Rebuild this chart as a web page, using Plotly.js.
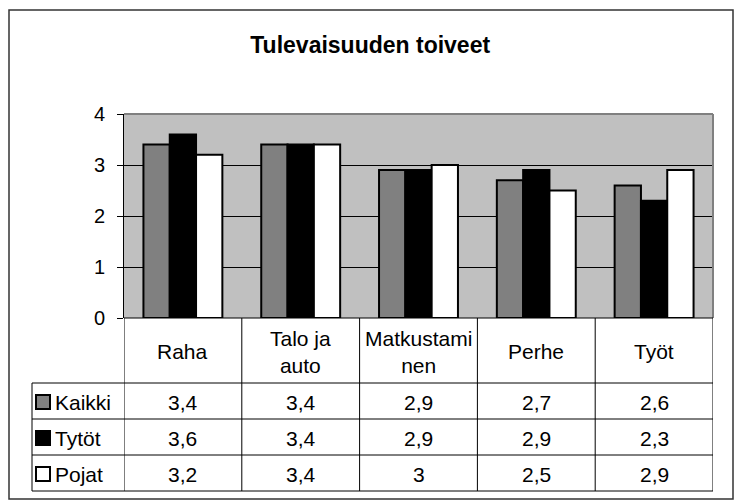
<!DOCTYPE html>
<html><head><meta charset="utf-8">
<script src="https://cdn.plot.ly/plotly-3.0.1.min.js"></script>
<style>html,body{margin:0;padding:0;background:#fff}</style>
</head><body><div id="chart" style="width:736px;height:502px"></div>
<script>
const categories = ['Raha', 'Talo ja auto', 'Matkustaminen', 'Perhe', 'Työt'];
const headerLabels = ['Raha', 'Talo ja<br>auto', 'Matkustami<br>nen', 'Perhe', 'Työt'];
const seriesNames = ['Kaikki', 'Tytöt', 'Pojat'];
const kaikki = [3.4, 3.4, 2.9, 2.7, 2.6];
const tytot = [3.6, 3.4, 2.9, 2.9, 2.3];
const pojat = [3.2, 3.4, 3.0, 2.5, 2.9];
const seriesColors = ['#808080', '#000000', '#ffffff'];
const yTicks = [0, 1, 2, 3, 4];

const seriesValues = [kaikki, tytot, pojat];
const W = 736, H = 502, ml = 124, mr = 23, mt = 114, mb = 184;
const pw = W - ml - mr, ph = H - mt - mb;
const px2x = p => (p - ml) / pw;
const px2y = p => (H - mb - p) / ph;
const FONT = 'Liberation Sans, Arial, sans-serif';
const TS = 21;

const traces = seriesValues.map((vals, i) => ({
  type: 'bar', name: seriesNames[i], x: categories, y: vals,
  marker: {color: seriesColors[i], line: {color: '#000', width: 2}},
  hoverinfo: 'skip'
}));

const shapes = [];
const annotations = [];
const lineStyle = {color: '#000', width: 1};
shapes.push({type: 'line', xref: 'paper', yref: 'paper', x0: 0, x1: 1, y0: 1, y1: 1, line: {color: '#808080', width: 2}, layer: 'above'});
shapes.push({type: 'line', xref: 'paper', yref: 'paper', x0: 1, x1: 1, y0: 0, y1: 1, line: {color: '#808080', width: 2}, layer: 'above'});

const rowLines = [318, 383, 419, 455, 491];
const legendLeft = 32;
shapes.push({type: 'line', xref: 'paper', yref: 'paper', x0: 0, x1: 1, y0: 0, y1: 0, line: lineStyle});
for (let r = 1; r < rowLines.length; r++) {
  shapes.push({type: 'line', xref: 'paper', yref: 'paper', x0: px2x(legendLeft), x1: 1, y0: px2y(rowLines[r]), y1: px2y(rowLines[r]), line: lineStyle});
}
for (let i = 0; i <= categories.length; i++) {
  shapes.push({type: 'line', xref: 'x', yref: 'paper', x0: i - 0.5, x1: i - 0.5, y0: 0, y1: px2y(rowLines[rowLines.length - 1]), line: lineStyle});
}
shapes.push({type: 'line', xref: 'paper', yref: 'paper', x0: px2x(legendLeft), x1: px2x(legendLeft), y0: px2y(rowLines[1]), y1: px2y(rowLines[rowLines.length - 1]), line: lineStyle});

headerLabels.forEach((lab, i) => {
  annotations.push({xref: 'x', yref: 'paper', x: i, y: px2y((rowLines[0] + rowLines[1]) / 2 + 1), text: lab, showarrow: false,
    font: {family: FONT, size: TS, color: '#000'}, xanchor: 'center', yanchor: 'middle', align: 'center'});
});
seriesValues.forEach((vals, s) => {
  const yc = (rowLines[s + 1] + rowLines[s + 2]) / 2;
  shapes.push({type: 'rect', xref: 'paper', yref: 'paper', x0: px2x(36), x1: px2x(50), y0: px2y(yc - 6), y1: px2y(yc + 8),
    fillcolor: seriesColors[s], line: {color: '#000', width: 2}});
  annotations.push({xref: 'paper', yref: 'paper', x: px2x(53), y: px2y(yc + 1), text: seriesNames[s], showarrow: false,
    font: {family: FONT, size: TS, color: '#000'}, xanchor: 'left', yanchor: 'middle'});
  vals.forEach((v, i) => {
    annotations.push({xref: 'x', yref: 'paper', x: i, y: px2y(yc + 1), text: String(v).replace('.', ','), showarrow: false,
      font: {family: FONT, size: TS, color: '#000'}, xanchor: 'center', yanchor: 'middle'});
  });
});
shapes.push({type: 'rect', xref: 'paper', yref: 'paper', x0: px2x(9), x1: px2x(733), y0: px2y(10), y1: px2y(499),
  line: {color: '#333', width: 1.5}, fillcolor: 'rgba(0,0,0,0)'});

const layout = {
  width: W, height: H,
  margin: {l: ml, r: mr, t: mt, b: mb, pad: 0},
  paper_bgcolor: '#fff', plot_bgcolor: '#c0c0c0',
  title: {text: '<b>Tulevaisuuden toiveet</b>', font: {family: FONT, size: 23, color: '#000'},
    xref: 'container', x: 0.503, xanchor: 'center', yref: 'container', y: 1 - 45 / H, yanchor: 'middle'},
  showlegend: false,
  barmode: 'group', bargap: 0.33, bargroupgap: 0,
  xaxis: {type: 'category', range: [-0.5, categories.length - 0.5], showticklabels: false, ticks: '', showgrid: false,
    zeroline: false, showline: false, fixedrange: true},
  yaxis: {range: [0, 4], tickvals: yTicks, ticktext: yTicks.map(String), ticks: 'outside', ticklen: 6, tickcolor: '#000', tickwidth: 1,
    showline: true, linecolor: '#000', linewidth: 1, showgrid: true, gridcolor: '#000', gridwidth: 1, zeroline: false,
    tickfont: {family: FONT, size: 20, color: '#000'}, ticklabelstandoff: 8, fixedrange: true},
  shapes: shapes, annotations: annotations
};
Plotly.newPlot('chart', traces, layout, {displayModeBar: false, staticPlot: true});
</script></body></html>
